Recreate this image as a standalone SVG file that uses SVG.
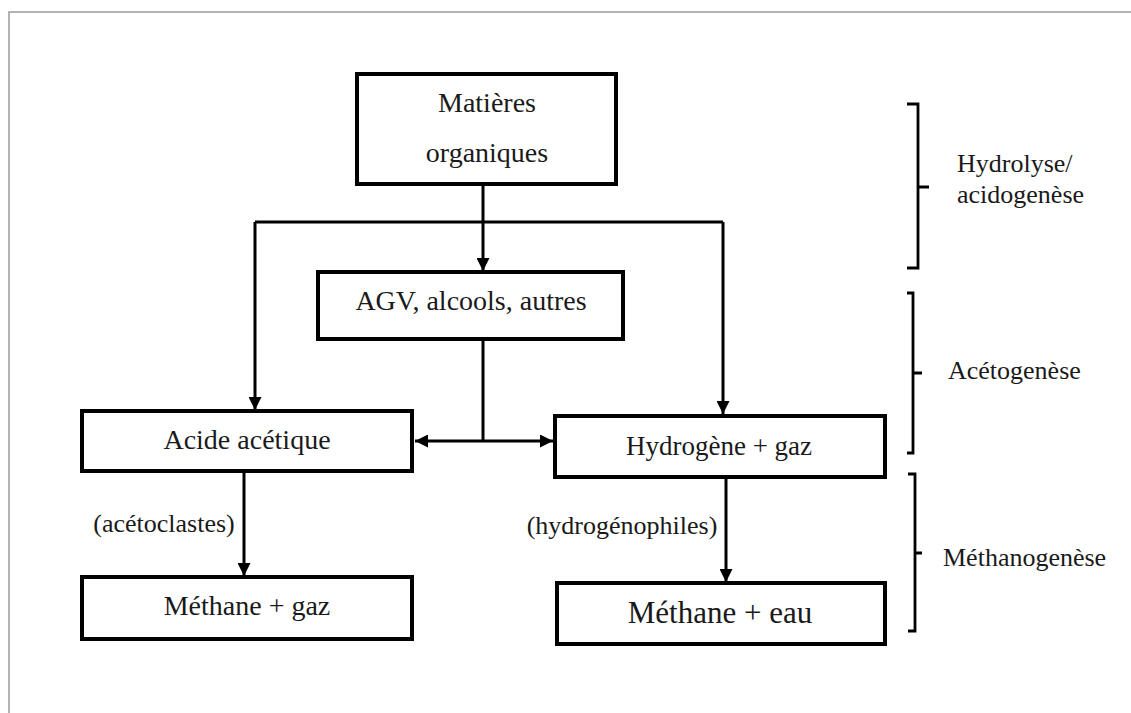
<svg xmlns="http://www.w3.org/2000/svg" width="1131" height="713" viewBox="0 0 1131 713">
  <style>
    .box { fill: #fff; stroke: #000; stroke-width: 4; }
    .lbl { font-family: "Liberation Serif", "Times New Roman", serif; fill: #1a1a1a; text-anchor: middle; }
    .side { font-family: "Liberation Serif", "Times New Roman", serif; fill: #1a1a1a; font-size: 26px; }
    .wire { fill: none; stroke: #000; stroke-width: 3; }
    .brace { fill: none; stroke: #000; stroke-width: 2.8; }
  </style>
  <defs>
    <marker id="arrow" viewBox="0 0 13 13" refX="13" refY="6.5" markerWidth="13" markerHeight="13" markerUnits="userSpaceOnUse" orient="auto-start-reverse">
      <path d="M0,0 L13,6.5 L0,13 Z" fill="#000"/>
    </marker>
  </defs>

  <rect width="1131" height="713" fill="#fff"/>
  <!-- page frame -->
  <path d="M9,713 V12 H1131" fill="none" stroke="#999" stroke-width="1.5"/>

  <!-- connectors -->
  <g id="connectors">
    <path class="wire" d="M483,184 V271" marker-end="url(#arrow)"/>
    <path class="wire" d="M255,222 H723"/>
    <path class="wire" d="M255,222 V410" marker-end="url(#arrow)"/>
    <path class="wire" d="M723,222 V414" marker-end="url(#arrow)"/>
    <path class="wire" d="M483,339 V441"/>
    <path class="wire" d="M415,441 H553" marker-start="url(#arrow)" marker-end="url(#arrow)"/>
    <path class="wire" d="M244,471 V576" marker-end="url(#arrow)"/>
    <path class="wire" d="M726,477 V582" marker-end="url(#arrow)"/>
    <text class="lbl" x="164" y="532" font-size="26">(acétoclastes)</text>
    <text class="lbl" x="622" y="534" font-size="26">(hydrogénophiles)</text>
  </g>

  <!-- nodes -->
  <g id="matieres">
    <rect class="box" x="357" y="74" width="259" height="110"/>
    <text class="lbl" x="487" y="112" font-size="28">Matières</text>
    <text class="lbl" x="487" y="162" font-size="28">organiques</text>
  </g>
  <g id="agv">
    <rect class="box" x="318" y="272" width="305" height="67"/>
    <text class="lbl" x="471" y="310" font-size="28">AGV, alcools, autres</text>
  </g>
  <g id="acide">
    <rect class="box" x="82" y="411" width="330" height="60"/>
    <text class="lbl" x="247" y="449" font-size="28">Acide acétique</text>
  </g>
  <g id="hydrogene">
    <rect class="box" x="555" y="416" width="330" height="61"/>
    <text class="lbl" x="719" y="455" font-size="27">Hydrogène + gaz</text>
  </g>
  <g id="methane-gaz">
    <rect class="box" x="82" y="577" width="330" height="62"/>
    <text class="lbl" x="247" y="615" font-size="28">Méthane + gaz</text>
  </g>
  <g id="methane-eau">
    <rect class="box" x="557" y="583" width="328" height="61"/>
    <text class="lbl" x="720" y="623" font-size="31">Méthane + eau</text>
  </g>

  <!-- phase brackets -->
  <g id="phase-hydrolyse">
    <path class="brace" d="M907,104 H918 V268 H907 M918,187 H929"/>
    <text class="side" x="957" y="172">Hydrolyse/</text>
    <text class="side" x="957" y="203">acidogenèse</text>
  </g>
  <g id="phase-acetogenese">
    <path class="brace" d="M907,293 H913 V453 H907 M913,373 H922"/>
    <text class="side" x="948" y="379">Acétogenèse</text>
  </g>
  <g id="phase-methanogenese">
    <path class="brace" d="M908,474 H915 V631 H908 M915,553 H922"/>
    <text class="side" x="943" y="566">Méthanogenèse</text>
  </g>
</svg>
